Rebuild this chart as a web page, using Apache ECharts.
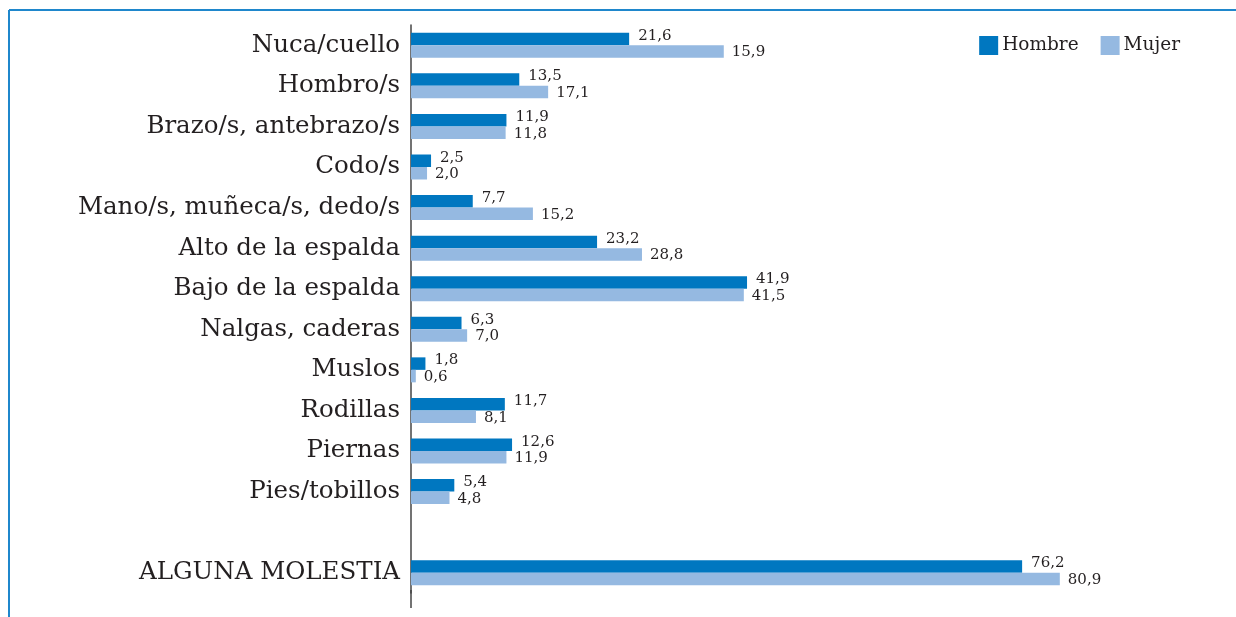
<!DOCTYPE html>
<html lang="es">
<head>
    <meta charset="UTF-8">
    <title>Molestias por zona</title>
    <style>
        html, body { margin: 0; padding: 0; background: #fff; }
    </style>
</head>
<body>
<script src="https://cdn.jsdelivr.net/npm/echarts@6/dist/echarts.min.js"></script>

<div id="chart" style="width: 1236px;height:617px;"></div>

<script type="text/javascript">
    // datos
    var zonas = ['Nuca/cuello', 'Hombro/s', 'Brazo/s, antebrazo/s', 'Codo/s', 'Mano/s, muñeca/s, dedo/s',
        'Alto de la espalda', 'Bajo de la espalda', 'Nalgas, caderas', 'Muslos', 'Rodillas',
        'Piernas', 'Pies/tobillos', '', 'ALGUNA MOLESTIA'];
    // longitud de las barras tal como aparecen (la de Nuca/cuello no coincide con su rótulo en el original)
    var hombre = [27.2, 13.5, 11.9, 2.5, 7.7, 23.2, 41.9, 6.3, 1.8, 11.7, 12.6, 5.4, null, 76.2];
    var mujer = [39.0, 17.1, 11.8, 2.0, 15.2, 28.8, 41.5, 7.0, 0.6, 8.1, 11.9, 4.8, null, 80.9];
    // rótulos impresos junto a cada barra
    var rotHombre = ['21,6', '13,5', '11,9', '2,5', '7,7', '23,2', '41,9', '6,3', '1,8', '11,7', '12,6', '5,4', '', '76,2'];
    var rotMujer = ['15,9', '17,1', '11,8', '2,0', '15,2', '28,8', '41,5', '7,0', '0,6', '8,1', '11,9', '4,8', '', '80,9'];

    var fuente = '"DejaVu Serif", "Liberation Serif", serif';
    var colorTexto = '#231f20';

    var myChart = echarts.init(document.getElementById('chart'));

    myChart.setOption({
        animation: false,
        textStyle: { fontFamily: fuente, color: colorTexto },
        graphic: [
            // marco azul
            { type: 'line', shape: { x1: 9, y1: 10, x2: 1236, y2: 10 }, style: { stroke: '#1f87cc', lineWidth: 2 } },
            { type: 'line', shape: { x1: 9, y1: 10, x2: 9, y2: 617 }, style: { stroke: '#1f87cc', lineWidth: 2 } },
            // prolongación del eje vertical
            { type: 'line', shape: { x1: 411, y1: 590, x2: 411, y2: 608 }, style: { stroke: '#444', lineWidth: 1.5 } }
        ],
        legend: {
            right: 51,
            top: 31,
            itemWidth: 19,
            itemHeight: 19,
            itemGap: 22,
            icon: 'rect',
            textStyle: { fontFamily: fuente, fontSize: 18.5, color: colorTexto, padding: [0, 0, 0, -1] },
            data: ['Hombre', 'Mujer']
        },
        grid: {
            left: 411,
            top: 25,
            width: 802,
            height: 568
        },
        xAxis: {
            type: 'value',
            min: 0,
            max: 100,
            show: false
        },
        yAxis: {
            type: 'category',
            inverse: true,
            data: zonas,
            axisLine: { lineStyle: { color: '#444', width: 1.5 } },
            axisTick: { show: false },
            axisLabel: { fontFamily: fuente, fontSize: 24.5, color: colorTexto, margin: 11 }
        },
        series: [
            {
                name: 'Hombre',
                type: 'bar',
                data: hombre,
                barWidth: 12.5,
                barGap: '0%',
                itemStyle: { color: '#0077c0' },
                label: {
                    show: true,
                    position: 'right',
                    distance: 9,
                    offset: [0, -3],
                    fontFamily: fuente,
                    fontSize: 15,
                    color: colorTexto,
                    formatter: function (p) { return rotHombre[p.dataIndex]; }
                }
            },
            {
                name: 'Mujer',
                type: 'bar',
                data: mujer,
                barWidth: 12.5,
                itemStyle: { color: '#95b9e1' },
                label: {
                    show: true,
                    position: 'right',
                    distance: 8,
                    offset: [0, 1],
                    fontFamily: fuente,
                    fontSize: 15,
                    color: colorTexto,
                    formatter: function (p) { return rotMujer[p.dataIndex]; }
                }
            }
        ]
    });
</script>
</body>
</html>
